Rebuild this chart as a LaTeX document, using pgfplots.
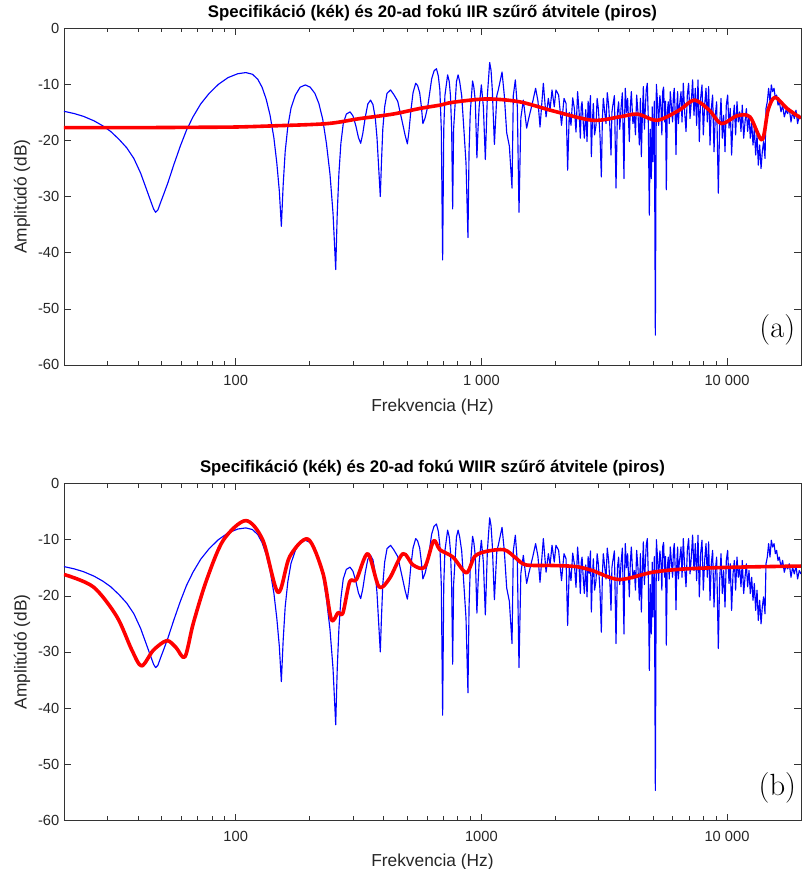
\documentclass[border=0pt]{standalone}
\usepackage{fontspec}
\setmainfont{Liberation Sans}
\newfontfamily\lmr{Latin Modern Roman}
\usepackage{pgfplots}
\pgfplotsset{compat=1.18}

% specification (blue), same in both panels
\pgfplotstableread{
f db
20 -14.8
22 -15.2
24 -15.7
26.5 -16.5
28.8 -17.4
31 -18.4
33.5 -19.8
36 -21.3
38.5 -23.2
41 -25.8
43 -28.3
45 -30.7
46.3 -32.2
47.2 -32.8
48.2 -32.4
49.5 -31.0
51 -29.5
53 -27.5
56 -24.3
59.5 -21.0
63 -18.2
67 -15.8
72 -13.5
78 -11.6
85 -10.0
93 -8.8
102 -8.1
110 -7.9
117 -8.2
123 -9.1
128 -10.5
133 -12.6
138 -15.5
143 -19.5
147 -24
150.5 -29
153.4 -35.3
156 -28
159 -22
163 -17.5
168 -14.2
175 -11.9
183 -10.5
192 -10.1
201 -10.5
210 -11.6
218 -13.4
226 -16.2
234 -20.5
242 -26
249 -33
255.3 -43.0
259 -33
263 -26
268 -20.5
274 -17
282 -15.3
292 -14.9
300 -15.6
308 -17.3
316 -19.5
322.7 -20.5
329 -18.8
337 -15.8
345 -13.5
354 -12.8
362 -13.6
370 -16
376 -19.5
381 -24
387.8 -30.0
392 -24
397 -18
404 -14
413 -11.6
427 -11.0
440 -11.8
456.5 -13
478.1 -17
489 -19
499.8 -20.6
507 -18.5
515.6 -15
527 -11.5
540.3 -9.8
550 -10.2
561 -11.5
570 -14
578 -17.0
590 -16
604.6 -14
627.8 -9
642 -7.6
656.3 -7.2
668 -8.5
677.8 -11
687 -18
695.6 -41.3
703 -18
710.6 -12
728.9 -8.3
740 -9.5
748.6 -12
757 -18
764.2 -32.2
771 -18
780.8 -14
792 -9.5
804.1 -8.3
816 -9.5
831.6 -12
851.7 -19
866 -24
881.9 -37.3
891 -22
901.2 -15
921 -9.4
932 -10.5
945 -13
959 -23.1
969 -18
979.6 -14
1000 -10.1
1019 -14
1038 -23.4
1058 -12
1081 -6.1
1095 -7.5
1108 -11
1130 -20.7
1156 -12
1172 -11
1214 -7.8
1240 -12
1268 -18.6
1300 -21
1333 -28.5
1349 -12
1375 -9.2
1401 -14
1423 -32.8
1448 -16
1482 -12.8
1529 -17.8
1560 -16
1590 -14.5
1620 -13
1663 -10.7
1700 -13
1733 -17.6
1788 -9.8
1834 -15.8
1874 -12.5
1904 -14.5
1940 -11.0
1981 -14
2012 -11
2063 -11.9
2120 -17.3
2170 -12.5
2212 -13.4
2245 -25.3
2280 -15
2317 -17.3
2354 -12.4
2391 -14.3
2428 -18.5
2465 -11.3
2500 -15
2529 -19.6
2550 -14
2570 -13.1
2600 -17
2626 -19.6
2660 -14.5
2693 -20.2
2720 -13
2750 -16
2780 -12
2804 -22.9
2830 -17
2857 -13.4
2890 -19
2929 -17.3
2960 -12.5
2994 -14.3
3040 -19
3079 -26.5
3110 -16
3137 -12.5
3180 -15
3217 -17.0
3255 -11.5
3297 -13.7
3335 -17.5
3372 -22.6
3400 -15
3423 -14.0
3480 -12
3533 -28.5
3580 -15
3621 -13.1
3660 -18
3703 -14.3
3750 -11.5
3808 -26.8
3830 -16
3855 -10.7
3900 -15
3939 -12.5
3970 -16
4003 -20.2
4040 -14
4079 -11.3
4140 -17
4195 -15.5
4240 -19
4287 -11.9
4340 -15
4397 -20.8
4440 -12.5
4480 -22.9
4520 -16
4565 -10.4
4610 -18
4650 -14.3
4690 -11
4738 -9.8
4780 -16
4828 -33.3
4870 -18
4920 -26.8
4960 -14
4998 -23.8
5060 -13
5108 -54.7
5156 -10.0
5210 -13
5268 -17.3
5330 -12
5388 -14.3
5430 -19
5469 -11.3
5520 -10.5
5572 -16.7
5620 -13
5662 -28.8
5710 -15
5768 -13.1
5820 -17
5877 -11.3
5940 -14
6005 -16.7
6050 -12
6101 -10.7
6150 -15
6200 -22.5
6250 -14
6295 -11.3
6340 -17
6390 -14.3
6499 -11.3
6559 -16.7
6640 -9.8
6722 -14.9
6811 -18.4
6894 -11.9
6978 -9.8
7070 -16.1
7156 -13.1
7244 -9.2
7339 -15.5
7430 -10.7
7522 -17.3
7620 -9.2
7715 -20.2
7810 -12.5
7911 -10.1
8009 -19.0
8108 -13.7
8214 -10.7
8315 -16.7
8417 -10.4
8528 -20.8
8631 -14.3
8738 -11.9
8853 -22.0
8962 -15.5
9073 -13.1
9218 -29.4
9331 -17.3
9454 -12.5
9570 -19.6
9688 -15.5
9815 -22.0
9934 -13.7
10060 -11.9
10190 -17.8
10310 -14.3
10440 -22.6
10580 -16.1
10710 -13.7
10840 -19.0
10980 -13.1
11120 -16.7
11260 -14.9
11400 -18.4
11540 -13.7
11690 -19.6
11840 -16.7
11990 -14.3
12130 -18.4
12290 -15.5
12440 -19.6
12600 -16.7
12760 -20.8
12920 -17.8
13080 -22.6
13250 -19.0
13410 -24.4
13580 -20.8
13760 -25.0
13920 -22.0
14090 -20.2
14280 -23.2
14410 -14.3
14590 -13.1
14770 -10.7
14960 -13.1
15150 -10.1
15330 -11.3
15540 -10.7
15730 -12.5
15920 -11.9
16130 -13.7
16330 -13.1
16590 -14.9
16840 -13.7
17110 -15.8
17390 -14.6
17650 -15.2
17930 -14.3
18220 -16.7
18490 -14.9
18790 -16.1
19090 -14.6
19380 -17.0
19690 -15.5
20000 -16.1
}\spec

% 20th order IIR fit (red, top)
\pgfplotstableread{
f db
20 -17.7
28 -17.7
44.8 -17.7
71.6 -17.65
100 -17.6
141 -17.4
235 -17.0
320 -16.1
436 -15.3
561 -14.3
678 -13.7
764 -13.2
1048 -12.6
1428 -13.1
1946 -14.7
2830 -16.4
3640 -15.8
4320 -15.3
5200 -16.4
6390 -14.6
7360 -12.8
8470 -14.6
9480 -17.0
10980 -15.6
12400 -15.8
13880 -19.9
14690 -14.6
15680 -12.3
17550 -14.3
20000 -16.0
}\iir

% 20th order WIIR fit (red, bottom)
\pgfplotstableread{
f db
20 -16.2
26.3 -18.4
32.8 -23.7
37.8 -29.7
41.4 -32.5
46.2 -29.7
52.4 -28.0
57.1 -29.2
62.1 -30.9
67.2 -24.9
76.1 -17.2
89.0 -10.1
109.8 -6.6
129 -10.1
148.7 -19.4
165.9 -13.0
197 -9.9
226.6 -16.0
245 -24.2
261 -23.0
273 -23.1
291 -17.5
310 -17.1
345 -12.5
383 -18.4
423 -16.9
479 -12.5
527 -14.5
588 -14.9
639 -10.2
678 -11.8
766 -13.1
869 -15.9
939 -13.0
1045 -12.1
1240 -11.8
1384 -13.3
1520 -14.5
1950 -14.6
2430 -14.8
2830 -15.5
3640 -17.1
4980 -15.8
6820 -15.2
10950 -14.9
20000 -14.7
}\wiir

\pgfplotsset{
  specax/.style={
    scale only axis, width=552.75pt, height=252.5pt,
    xmin=20, xmax=20000, ymin=-60, ymax=0,
    xtick={100,1000,10000},
    minor xtick={30,40,50,60,70,80,90,200,300,400,500,600,700,800,900,
      2000,3000,4000,5000,6000,7000,8000,9000},
    ytick={-60,-50,...,0},
    yticklabels={-60,-50,-40,-30,-20,-10,0},
    tick align=inside,
    major tick length=5pt, minor tick length=3pt,
    axis line style={black!80},
    every tick/.style={black!80},
    tick label style={font=\fontsize{11}{13}\selectfont, black!85},
    xticklabel style={yshift=-4.5pt},
    label style={font=\fontsize{13}{15}\selectfont, black!85},
    every axis title shift=0pt,
    title style={font=\fontsize{12.6}{15}\selectfont\bfseries,
      at={(axis description cs:0.5,1.0317)}, anchor=base},
    xlabel={Frekvencia (Hz)},
    ylabel={Amplitúdó (dB)},
    xlabel style={at={(axis description cs:0.5,-0.1386)}, anchor=base},
    ylabel style={at={(axis description cs:-0.057,0.5)}, anchor=center},
  },
  specline/.style={blue, line width=0.85pt, line join=round},
  fitline/.style={red, line width=2.7pt, smooth, line join=round},
}

\begin{document}
\begin{tikzpicture}
\path[use as bounding box] (-48pt,-378.1pt) rectangle (554.25pt,273.7pt);

\begin{axis}[xmode=log, specax,
  title={Specifikáció (kék) és 20-ad fokú IIR szűrő átvitele (piros)},
  xticklabels={100,1 000,10 000}]
\addplot[specline] table[x=f, y=db] {\spec};
\addplot[fitline] table[x=f, y=db] {\iir};
\node[font=\lmr\fontsize{23}{27}\selectfont] at (rel axis cs:0.968,0.104) {(a)};
\end{axis}

\begin{axis}[xmode=log, specax, at={(0,-341.5pt)},
  title={Specifikáció (kék) és 20-ad fokú WIIR szűrő átvitele (piros)},
  xticklabels={100,1000,10 000}]
\addplot[specline] table[x=f, y=db] {\spec};
\addplot[fitline] table[x=f, y=db] {\wiir};
\node[font=\lmr\fontsize{23}{27}\selectfont] at (rel axis cs:0.968,0.096) {(b)};
\end{axis}
\end{tikzpicture}
\end{document}
